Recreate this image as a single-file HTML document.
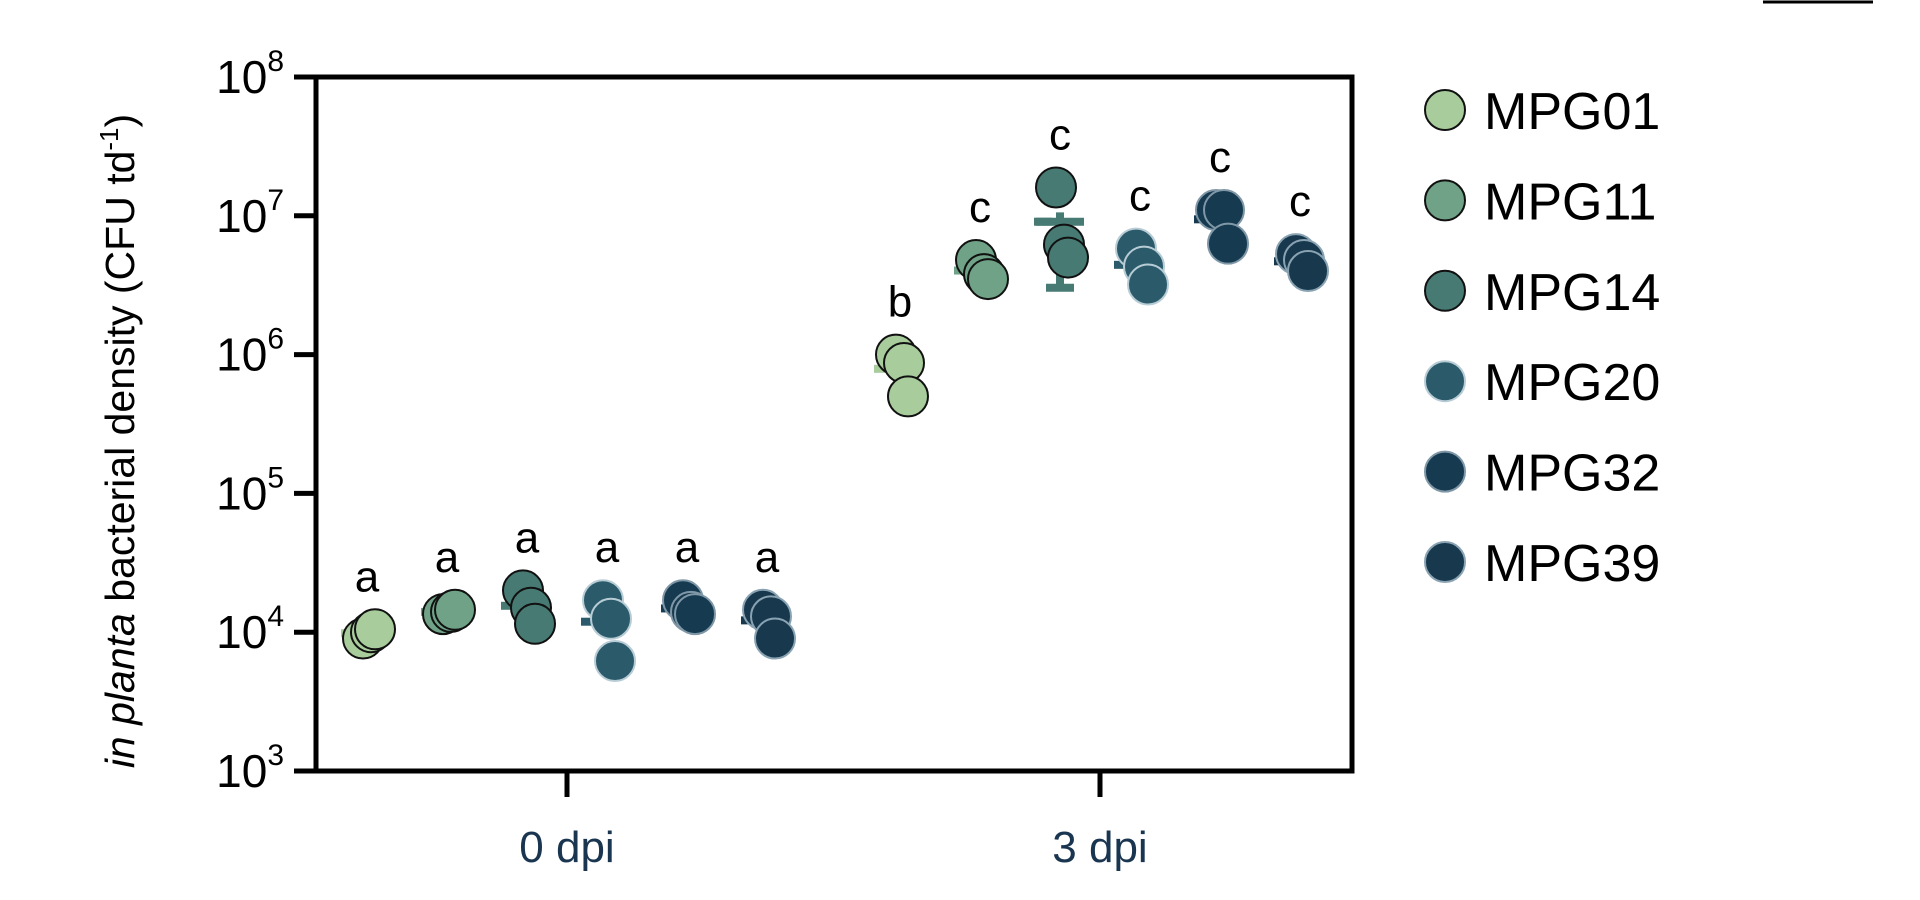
<!DOCTYPE html>
<html><head><meta charset="utf-8"><style>
html,body{margin:0;padding:0;background:#fff;width:1920px;height:900px;overflow:hidden}
svg{display:block;font-family:"Liberation Sans",sans-serif}
</style></head><body>
<svg id="chart" width="1920" height="900" viewBox="0 0 1920 900">
<line x1="1763" y1="2" x2="1873" y2="2" stroke="#000" stroke-width="3"/>
<g id="axes"></g>
<g id="marks"></g>
<g id="legend"></g>
<text transform="translate(134,441) rotate(-90)" text-anchor="middle" font-size="41" fill="#000"><tspan font-style="italic">in planta</tspan> bacterial density (CFU td<tspan font-size="26" dy="-16">-1</tspan><tspan dy="16">)</tspan></text>
</svg>
<script>
const strains = ["MPG01","MPG11","MPG14","MPG20","MPG32","MPG39"];
const timepoints = ["0 dpi","3 dpi"];
const yTickExps = [3,4,5,6,7,8];
const values0 = [
  [9.0e3,1.0e4,1.05e4],
  [1.35e4,1.4e4,1.45e4],
  [2.0e4,1.5e4,1.15e4],
  [1.7e4,1.25e4,6.2e3],
  [1.7e4,1.4e4,1.35e4],
  [1.45e4,1.3e4,9.0e3]
];
const values3 = [
  [1.0e6,8.7e5,5.0e5],
  [4.8e6,3.8e6,3.5e6],
  [1.6e7,6.2e6,5.0e6],
  [5.8e6,4.3e6,3.2e6],
  [1.1e7,1.1e7,6.3e6],
  [5.3e6,4.8e6,4.0e6]
];
const letters0 = ["a","a","a","a","a","a"];
const letters3 = ["b","c","c","c","c","c"];
const colors = ["#a8cc9c","#6fa286","#477a73","#2b5b6b","#163a50","#17384d"];
const strokes = ["#111","#111","#111","#b8ccd6","#7f97a6","#8aa3b3"];

const NS="http://www.w3.org/2000/svg";
const X0=316, X1=1352, Ytop=77, Ybot=771;
function y(v){return Ybot-(Math.log10(v)-3)/5*(Ybot-Ytop);}
const tpCenter=[567,1100];
const groupStep=80;
function gx(t,i){return tpCenter[t]+(i-2.5)*groupStep;}
function mk(tag,attrs,parent){const e=document.createElementNS(NS,tag);for(const k in attrs)e.setAttribute(k,attrs[k]);parent.appendChild(e);return e;}
const axes=document.getElementById('axes'), marks=document.getElementById('marks'), legend=document.getElementById('legend');

let e=mk('path',{d:`M${X0},${Ytop}H${X1}V${Ybot}H${X0}Z`,fill:'none',stroke:'#000','stroke-width':5},axes);


yTickExps.forEach(p=>{
  const yy=y(Math.pow(10,p));
  let t=mk('line',{x1:X0-22,x2:X0,y1:yy,y2:yy,stroke:'#000','stroke-width':5},axes);
  
  
  let l=mk('text',{x:X0-32,y:yy+16,'text-anchor':'end','font-size':46,fill:'#000'},axes);
  
  
  l.innerHTML='10<tspan font-size="30" dy="-22">'+p+'</tspan>';
});
timepoints.forEach((tp,t)=>{
  let k=mk('line',{x1:tpCenter[t],x2:tpCenter[t],y1:Ybot,y2:Ybot+26,stroke:'#000','stroke-width':5},axes);
  
  
  let l=mk('text',{x:tpCenter[t],y:862,'text-anchor':'middle','font-size':44,fill:'#1a3550'},axes);
  
  
  l.textContent=tp;
});
const jit=[-4,4,8];
const jitY=[0,-2,2];
[values0,values3].forEach((vals,t)=>{
  const letters=t===0?letters0:letters3;
  vals.forEach((arr,i)=>{
    const cx=gx(t,i);
    const mean=arr.reduce((a,b)=>a+b,0)/arr.length;
    let m=mk('rect',{x:cx-26,y:y(mean)-4,width:18,height:8,fill:colors[i]},marks);
    
    
    if(t===1&&i===2){
      const sd=Math.sqrt(arr.reduce((a,b)=>a+(b-mean)*(b-mean),0)/(arr.length-1));
      const hi=mean+sd*0.25, lo=Math.max(mean-sd,mean/3);
      let eb=mk('path',{d:`M${cx-24},${y(mean)}H${cx+24}M${cx},${y(hi)}V${y(lo)}M${cx-14},${y(lo)}H${cx+14}`,stroke:colors[i],'stroke-width':8,fill:'none'},marks);
      
      
    }
    arr.forEach((v,j)=>{
      let c=mk('circle',{cx:cx+jit[j],cy:y(v),r:20,fill:colors[i],stroke:strokes[i],'stroke-width':2},marks);
      
      
    });
    const top=Math.max(...arr);
    let L=mk('text',{x:cx,y:y(top)-38,'text-anchor':'middle','font-size':44,fill:'#000'},marks);
    
    
    L.textContent=letters[i];
  });
});
strains.forEach((s,i)=>{
  const yy=110+i*90.4;
  let c=mk('circle',{cx:1445,cy:yy,r:20,fill:colors[i],stroke:strokes[i],'stroke-width':2},legend);
  
  
  let t=mk('text',{x:1484,y:yy+19,'font-size':52,fill:'#000'},legend);
  
  
  t.textContent=s;
});
</script>
</body></html>
